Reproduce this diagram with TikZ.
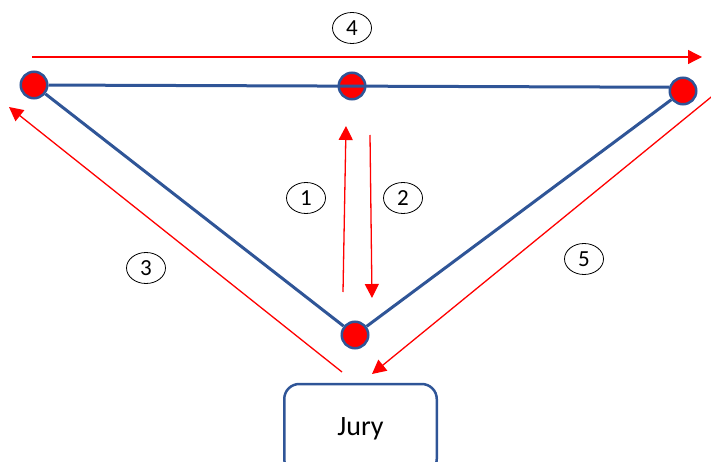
\documentclass[tikz,border=0pt]{standalone}
\usepackage{fontspec}
\setmainfont{Carlito}
\usetikzlibrary{arrows.meta,shapes.geometric}
\definecolor{edgeblue}{HTML}{2F5597}
\definecolor{arrowred}{HTML}{FF0000}
\begin{document}
\begin{tikzpicture}[x=1pt,y=-1pt,
  dot/.style={circle, fill=arrowred, draw=edgeblue, line width=2.5pt, minimum size=26.5pt, inner sep=0pt},
  edge/.style={draw=edgeblue, line width=3pt},
  flow/.style={draw=arrowred, line width=1.3pt, -{Triangle[length=14pt,width=14pt]}},
  num/.style={ellipse, draw=black, line width=0.8pt, minimum width=39pt, minimum height=31pt, inner sep=0pt, font=\fontsize{23}{23}\selectfont},
  jurybox/.style={draw=edgeblue, line width=2.5pt, rounded corners=15pt, minimum width=152.5pt, minimum height=90pt, inner sep=0pt, font=\fontsize{28}{28}\selectfont}
]
\useasboundingbox (0,0) rectangle (711,462);
\clip (0,0) rectangle (711,462);

% vertices
\node[dot] (L) at (34,85) {};
\node[dot] (M) at (352,86) {};
\node[dot] (R) at (683,91) {};
\node[dot] (B) at (355,335) {};

% edges
\draw[edge] (L) -- (R.165);
\draw[edge] (L) -- (B) -- (R);

% jury
\node[jurybox] (J) at (360.5,429) {Jury};

% arrow end points
\coordinate (a4s) at (32,57);
\coordinate (a4e) at (702,57);
\coordinate (a1s) at (343,292);
\coordinate (a1e) at (346,126);
\coordinate (a2s) at (370,135);
\coordinate (a2e) at (372,298);
\coordinate (a3s) at (342,372);
\coordinate (a3e) at (9,107);
\coordinate (a5s) at (721,89);
\coordinate (a5e) at (372,374);

\draw[flow] (a4s) -- (a4e);
\draw[flow] (a1s) -- (a1e);
\draw[flow] (a2s) -- (a2e);
\draw[flow] (a3s) -- (a3e);
\draw[flow] (a5s) -- (a5e);

% step numbers
\node[num] (n4) at (352,28) {4};
\node[num] (n1) at (306,198) {1};
\node[num] (n2) at (403,198) {2};
\node[num] (n3) at (146,268) {3};
\node[num] (n5) at (584,259) {5};
\end{tikzpicture}
\end{document}
